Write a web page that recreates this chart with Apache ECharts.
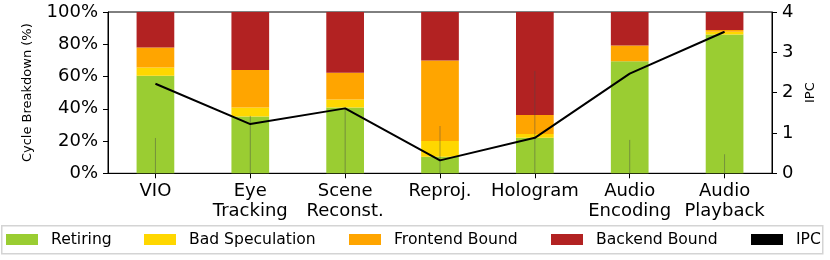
<!DOCTYPE html>
<html>
<head>
<meta charset="utf-8">
<script src="https://cdn.jsdelivr.net/npm/echarts@6/dist/echarts.min.js"></script>
<style>
html,body{margin:0;padding:0;background:#fff;}
#chart{width:830px;height:260px;}
</style>
</head>
<body>
<div id="chart"></div>
<script>
const categories = ['VIO', 'Eye\nTracking', 'Scene\nReconst.', 'Reproj.', 'Hologram', 'Audio\nEncoding', 'Audio\nPlayback'];
const retiring = [60.4, 35.2, 40.8, 10.3, 22.1, 69.4, 86.1];
const badSpeculation = [5.2, 5.6, 4.9, 9.7, 2.3, 0.0, 1.7];
const frontendBound = [12.4, 23.2, 16.6, 50.0, 11.8, 9.9, 1.1];
const backendBound = [22.0, 36.0, 37.7, 30.0, 63.8, 20.7, 11.1];
const ipc = [2.22, 1.22, 1.61, 0.32, 0.88, 2.47, 3.51];
const errorTop = [21.9, 35.6, 40.5, 29.3, 63.5, 20.7, 11.8];
const leftTicks = [0, 20, 40, 60, 80, 100];
const rightTicks = [0, 1, 2, 3, 4];

const FONT = 'DejaVu Sans';
const chart = echarts.init(document.getElementById('chart'), null, {renderer: 'canvas'});

function legendAt(left, name, color) {
  return {
    show: true, left: left, top: 231.5, padding: 0,
    icon: 'rect', itemWidth: 32, itemHeight: 11,
    data: [{name: name, itemStyle: {color: color}}],
    textStyle: {fontFamily: FONT, fontSize: 15.6, color: '#000', padding: [0, 0, 0, 8]},
    selectedMode: false
  };
}

const barCommon = {type: 'bar', stack: 'total', barWidth: 37.7, z: 2};

const option = {
  animation: false,
  backgroundColor: '#fff',
  textStyle: {fontFamily: FONT},
  grid: {left: 108, right: 58, top: 12, bottom: 86.7, show: true, borderColor: '#000', borderWidth: 1, backgroundColor: 'transparent'},
  legend: [
    legendAt(6, 'Retiring', '#9acd32'),
    legendAt(144, 'Bad Speculation', '#ffd700'),
    legendAt(349, 'Frontend Bound', '#ffa500'),
    legendAt(551, 'Backend Bound', '#b22222'),
    legendAt(751, 'IPC', '#000')
  ],
  graphic: [{
    type: 'rect', left: 1, top: 225, z: -1,
    shape: {width: 821, height: 28},
    style: {fill: 'transparent', stroke: '#d4d4d4', lineWidth: 1.5}
  }],
  xAxis: {
    type: 'category', data: categories, boundaryGap: true,
    axisLine: {lineStyle: {color: '#000', width: 1}},
    axisTick: {show: true, alignWithLabel: true, length: 5, lineStyle: {color: '#000'}},
    axisLabel: {fontFamily: FONT, fontSize: 18, color: '#000', margin: 8, lineHeight: 20, interval: 0}
  },
  yAxis: [{
    type: 'value', min: leftTicks[0], max: leftTicks[leftTicks.length - 1], interval: 20,
    name: 'Cycle Breakdown (%)', nameLocation: 'middle', nameGap: 74, nameRotate: 90,
    nameTextStyle: {fontFamily: FONT, fontSize: 13, color: '#000'},
    axisLine: {show: true, lineStyle: {color: '#000', width: 1}},
    axisTick: {show: true, length: 5, lineStyle: {color: '#000'}},
    axisLabel: {fontFamily: FONT, fontSize: 18, color: '#000', margin: 10, formatter: '{value}%'},
    splitLine: {show: false}
  }, {
    type: 'value', position: 'right', min: rightTicks[0], max: rightTicks[rightTicks.length - 1], interval: 1,
    name: 'IPC', nameLocation: 'middle', nameGap: 29, nameRotate: 90,
    nameTextStyle: {fontFamily: FONT, fontSize: 13, color: '#000'},
    axisLine: {show: true, lineStyle: {color: '#000', width: 1}},
    axisTick: {show: true, length: 5, lineStyle: {color: '#000'}},
    axisLabel: {fontFamily: FONT, fontSize: 18, color: '#000', margin: 10},
    splitLine: {show: false}
  }],
  series: [
    Object.assign({name: 'Retiring', data: retiring, itemStyle: {color: '#9acd32'}}, barCommon),
    Object.assign({name: 'Bad Speculation', data: badSpeculation, itemStyle: {color: '#ffd700'}}, barCommon),
    Object.assign({name: 'Frontend Bound', data: frontendBound, itemStyle: {color: '#ffa500'}}, barCommon),
    Object.assign({name: 'Backend Bound', data: backendBound, itemStyle: {color: '#b22222'}}, barCommon),
    {
      name: 'err', type: 'custom', z: 3, silent: true,
      data: errorTop.map((v, i) => [i, v]),
      renderItem: function (params, api) {
        const p0 = api.coord([api.value(0), 0]);
        const p1 = api.coord([api.value(0), api.value(1)]);
        return {type: 'line', shape: {x1: p0[0], y1: p0[1], x2: p1[0], y2: p1[1]},
          style: {stroke: 'rgba(70,70,70,0.45)', lineWidth: 1}};
      }
    },
    {
      name: 'IPC', type: 'line', yAxisIndex: 1, data: ipc, z: 5,
      symbol: 'none', lineStyle: {color: '#000', width: 2}, itemStyle: {color: '#000'}
    }
  ]
};
chart.setOption(option);
</script>
</body>
</html>
